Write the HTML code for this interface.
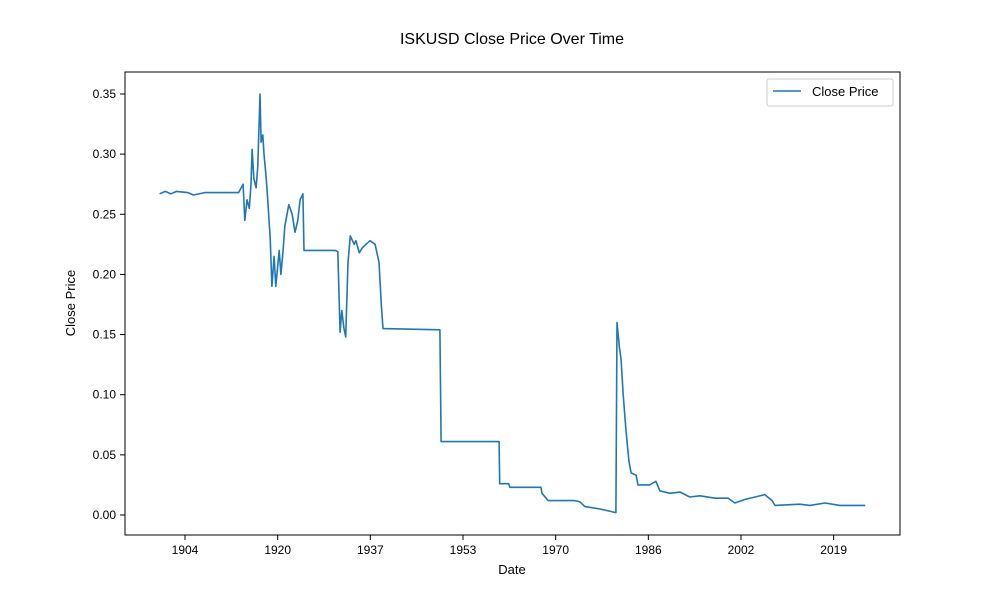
<!DOCTYPE html>
<html><head><meta charset="utf-8"><style>
body{margin:0;background:#fff;}
svg{display:block;font-family:"Liberation Sans","DejaVu Sans",sans-serif;}
</style></head><body>
<svg id="chart" width="1000" height="600">
<rect width="1000" height="600" fill="#fff"/>
<text x="512" y="44" font-size="16" text-anchor="middle">ISKUSD Close Price Over Time</text>
<rect x="125" y="72" width="775" height="463" fill="none" stroke="#000" stroke-width="1"/>
<g id="xt"></g><g id="yt"></g>
<path id="line" fill="none" stroke="#1f77b4" stroke-width="1.6" stroke-linejoin="round"/>
<text x="512" y="574" font-size="13" text-anchor="middle">Date</text>
<text x="75" y="303" font-size="13" text-anchor="middle" transform="rotate(-90 75 303)">Close Price</text>
<g>
<rect x="767" y="79" width="126" height="27" fill="#fff" stroke="#ccc" rx="2"/>
<line x1="773" y1="91" x2="801" y2="91" stroke="#1f77b4" stroke-width="1.6"/>
<text x="812" y="96" font-size="13">Close Price</text>
</g>
</svg>
<script>
const years=[1900.0,1901,1902,1903,1905,1906,1908,1911,1914,1914.8,1915.1,1915.5,1915.9,1916.2,1916.4,1916.7,1917.1,1917.4,1917.8,1918.0,1918.3,1918.5,1918.9,1919.2,1919.6,1919.9,1920.3,1920.6,1921.2,1921.5,1921.9,1922.2,1922.9,1923.5,1924.0,1924.5,1924.9,1925.4,1925.6,1931.1,1931.6,1932.0,1932.3,1932.7,1933.0,1933.4,1933.8,1934.5,1934.8,1935.4,1935.9,1936.6,1937.3,1938.2,1938.9,1939.3,1939.6,1949.7,1949.9,1960.2,1960.3,1961.9,1962.1,1967.6,1967.8,1968.9,1973.6,1974.5,1975.4,1978.1,1980.9,1981.1,1981.5,1981.8,1982.2,1982.7,1983.2,1983.6,1984.5,1984.8,1986.9,1988.0,1988.7,1990.5,1992.3,1994.0,1995.8,1998.5,2000.8,2002.0,2003.8,2005.6,2007.3,2008.6,2009.1,2013.5,2015.3,2018.0,2020.6,2025.1];
const prices=[0.267,0.269,0.267,0.269,0.268,0.266,0.268,0.268,0.268,0.275,0.245,0.262,0.255,0.275,0.304,0.28,0.272,0.29,0.35,0.31,0.316,0.30,0.28,0.26,0.23,0.19,0.215,0.19,0.22,0.20,0.22,0.24,0.258,0.25,0.235,0.245,0.262,0.267,0.22,0.22,0.219,0.152,0.17,0.155,0.148,0.21,0.232,0.225,0.228,0.218,0.222,0.225,0.228,0.225,0.21,0.175,0.155,0.154,0.061,0.061,0.026,0.026,0.023,0.023,0.018,0.012,0.012,0.011,0.007,0.005,0.002,0.16,0.14,0.13,0.10,0.07,0.045,0.035,0.033,0.025,0.025,0.028,0.02,0.018,0.019,0.015,0.016,0.014,0.014,0.01,0.013,0.015,0.017,0.012,0.008,0.009,0.008,0.01,0.008,0.008];
const xTickYears=[1904.5,1920.93,1937.36,1953.79,1970.22,1986.65,2003.08,2019.51];
const xTickLabels=["1904","1920","1937","1953","1970","1986","2002","2019"];
const yTicks=[0,0.05,0.10,0.15,0.20,0.25,0.30,0.35];
const yTickLabels=["0.00","0.05","0.10","0.15","0.20","0.25","0.30","0.35"];
const NS="http://www.w3.org/2000/svg";
function xs(y){return 185+(y-1904.5)*5.64;}
function ys(v){return 515-v*1202.9;}
let d="";
for(let i=0;i<years.length;i++){d+=(i?"L":"M")+xs(years[i]).toFixed(1)+","+ys(prices[i]).toFixed(1);}
document.getElementById("line").setAttribute("d",d);
const xt=document.getElementById("xt"),yt=document.getElementById("yt");
xTickYears.forEach((t,i)=>{
 const x=xs(t);
 const l=document.createElementNS(NS,"line");
 l.setAttribute("x1",x);l.setAttribute("x2",x);l.setAttribute("y1",535);l.setAttribute("y2",540);l.setAttribute("stroke","#000");
 
 
 xt.appendChild(l);
 const tx=document.createElementNS(NS,"text");
 tx.setAttribute("x",x);tx.setAttribute("y",554);tx.setAttribute("font-size","12");tx.setAttribute("text-anchor","middle");
 tx.textContent=xTickLabels[i];
 
 
 xt.appendChild(tx);
});
yTicks.forEach((t,i)=>{
 const y=ys(t);
 const l=document.createElementNS(NS,"line");
 l.setAttribute("x1",120);l.setAttribute("x2",125);l.setAttribute("y1",y);l.setAttribute("y2",y);l.setAttribute("stroke","#000");
 
 
 yt.appendChild(l);
 const tx=document.createElementNS(NS,"text");
 tx.setAttribute("x",116);tx.setAttribute("y",y+4);tx.setAttribute("font-size","12");tx.setAttribute("text-anchor","end");
 tx.textContent=yTickLabels[i];
 
 
 yt.appendChild(tx);
});
</script>
</body></html>
